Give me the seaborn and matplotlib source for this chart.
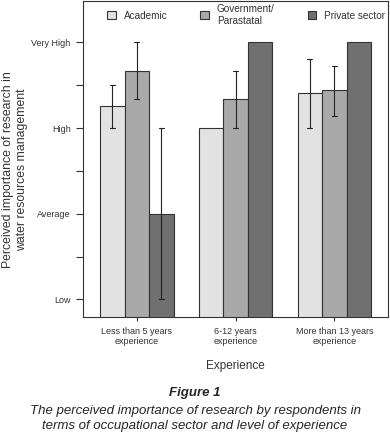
import numpy as np
import pandas as pd
import seaborn as sns
import matplotlib.pyplot as plt
from matplotlib.patches import Patch

sns.set_style('white')
plt.rcParams['font.family'] = ['Liberation Sans', 'DejaVu Sans']

groups = ['Less than 5 years\nexperience', '6-12 years\nexperience', 'More than 13 years\nexperience']
sectors = ['Academic', 'Government/\nParastatal', 'Private sector']
academic = [3.26, 3.0, 3.41]
government = [3.67, 3.34, 3.44]
private = [2.0, 4.0, 4.0]
# error bar ends (low, high) per bar
academic_err = [(3.0, 3.5), (3.0, 3.0), (3.0, 3.81)]
government_err = [(3.34, 4.0), (3.0, 3.67), (3.14, 3.72)]
private_err = [(1.0, 3.0), (4.0, 4.0), (4.0, 4.0)]
ytick_labels = ['Low', 'Average', 'High', 'Very High']

colors = ['#e2e2e2', '#a9a9a9', '#707070']

df = pd.DataFrame({
    'group': groups * 3,
    'sector': [s for s in sectors for _ in groups],
    'value': academic + government + private,
})

fig = plt.figure(figsize=(3.9, 4.33), dpi=100)
ax = fig.add_axes([0.213, 0.268, 0.782, 0.73])

sns.barplot(data=df, x='group', y='value', hue='sector', palette=colors,
            width=0.745, gap=0, edgecolor='#333333', linewidth=0.8,
            errorbar=None, legend=False, ax=ax)

# error bars placed on the bar centres
cap = 2.5 / 98.7
for cont, errs in zip(ax.containers, [academic_err, government_err, private_err]):
    for bar, (lo, hi) in zip(cont, errs):
        if hi - lo <= 0:
            continue
        xc = bar.get_x() + bar.get_width() / 2
        ax.plot([xc, xc], [lo, hi], color='#222222', lw=0.8)
        ax.plot([xc - cap, xc + cap], [lo, lo], color='#222222', lw=0.8)
        ax.plot([xc - cap, xc + cap], [hi, hi], color='#222222', lw=0.8)

ax.set_xlim(-0.544, 2.544)
ax.set_ylim(0.795, 4.485)
ax.set_yticks([1, 2, 3, 4])
ax.set_yticklabels(ytick_labels)
ax.set_yticks([1.5, 2.5, 3.5], minor=True)
ax.tick_params(axis='y', which='both', left=True, length=5, width=0.8,
               color='#333333', labelsize=6.5, labelcolor='#333333', pad=4)
ax.tick_params(axis='x', bottom=True, length=3, width=0.8, color='#333333',
               labelsize=6.5, labelcolor='#333333', pad=4)
for sp in ax.spines.values():
    sp.set_color('#333333')
    sp.set_linewidth(0.8)

ax.set_xlabel('Experience', fontsize=8.5, color='#333333', labelpad=10)
ax.set_ylabel('Perceived importance of research in\nwater resources management',
              fontsize=8.8, color='#333333')
ax.yaxis.set_label_coords(-0.182, 0.465)

handles = [Patch(facecolor=c, edgecolor='#333333', linewidth=0.8) for c in colors]
ax.legend(handles, sectors, ncol=3, loc='upper left', frameon=False,
          bbox_to_anchor=(0.079, 0.99), borderaxespad=0, borderpad=0,
          fontsize=7.2, handlelength=0.85, handleheight=0.85,
          columnspacing=3.3, handletextpad=0.8, labelcolor='#333333')

fig.text(0.5, 0.092, 'Figure 1', ha='center', va='center', fontsize=9.5,
         fontweight='bold', style='italic')
fig.text(0.5, 0.034, 'The perceived importance of research by respondents in\nterms of occupational sector and level of experience',
         ha='center', va='center', fontsize=9.5, style='italic', linespacing=1.32)

fig.savefig('out.png', dpi=100)
